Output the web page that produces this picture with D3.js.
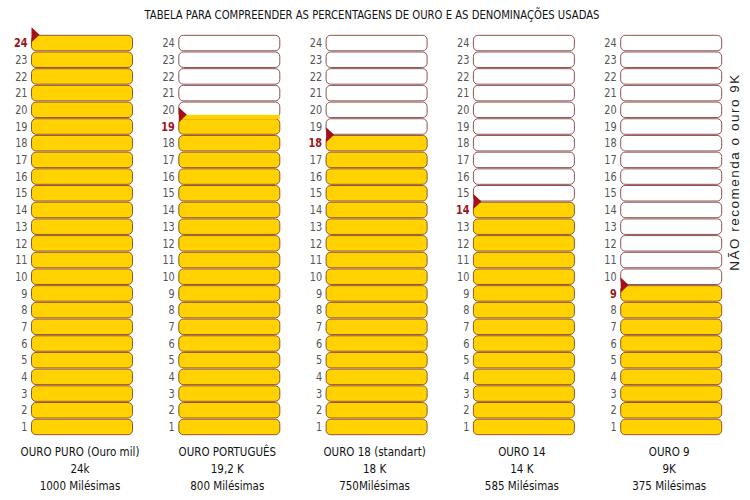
<!DOCTYPE html>
<html><head><meta charset="utf-8">
<script src="https://cdn.jsdelivr.net/npm/d3@7"></script>
<style>body{margin:0;background:#fff}</style>
</head><body>
<svg id="c" width="750" height="500"></svg>
<script>
const title = "TABELA PARA COMPREENDER AS PERCENTAGENS DE OURO E AS DENOMINAÇÕES USADAS";
const categories = ["OURO PURO (Ouro mil)", "OURO PORTUGUÊS", "OURO 18 (standart)", "OURO 14", "OURO 9"];
const karatLabels = ["24k", "19,2 K", "18 K", "14 K", "9K"];
const milLabels = ["1000 Milésimas", "800 Milésimas", "750Milésimas", "585 Milésimas", "375 Milésimas"];
const karats = [24, 19.2, 18, 14, 9];
const rowTicks = d3.range(1, 25);
const sideNote = "NÃO recomenda o ouro 9K";

const FONT = "'Liberation Sans Narrow','DejaVu Sans Condensed','Liberation Sans',sans-serif";
const svg = d3.select("#c");
const x = d3.scaleBand().domain(d3.range(categories.length)).range([31.5, 721.7]).paddingInner(0.3143).paddingOuter(0);
const y = d3.scaleLinear().domain([0, 24]).range([435.3, 34.7]);
const gold = "#ffd200";

svg.append("text").attr("x", 372).attr("y", 19).attr("text-anchor", "middle")
  .attr("font-family", FONT).attr("font-size", 12.5).attr("fill", "#111")
  .attr("textLength", 455).attr("lengthAdjust", "spacingAndGlyphs").text(title);

categories.forEach((cat, i) => {
  const g = svg.append("g");
  const x0 = x(i), w = x.bandwidth();
  const k = karats[i], full = Math.floor(k);
  rowTicks.forEach(r => {
    const filled = r <= full;
    g.append("rect").attr("x", x0).attr("y", y(r) + 0.6).attr("width", w)
      .attr("height", y(r - 1) - y(r) - 1.2).attr("rx", 4.5)
      .attr("fill", filled ? gold : "#fff")
      .attr("stroke", filled ? "#95552a" : "#8e5252").attr("stroke-width", 1);
    const hl = r === full;
    g.append("text").attr("transform", `translate(${x0 - 4},${(y(r) + y(r - 1)) / 2 + 4.2}) scale(0.9,1)`)
      .attr("text-anchor", "end").attr("font-family", FONT).attr("font-size", 12)
      .attr("font-weight", hl ? "bold" : "normal").attr("fill", hl ? "#9b1320" : "#555").text(r);
  });
  if (k > full) {
    g.append("rect").attr("x", x0).attr("y", y(k)).attr("width", w)
      .attr("height", y(full) - y(k) + 1).attr("fill", gold);
  }
  const ty = y(k);
  g.append("path").attr("d", `M${x0},${ty - 7.5}L${x0 + 8},${ty}L${x0},${ty + 7.5}Z`).attr("fill", "#a3101c");
  const cx = x0 + w / 2;
  [categories[i], karatLabels[i], milLabels[i]].forEach((t, j) => {
    g.append("text").attr("transform", `translate(${cx - 2},${456 + j * 17}) scale(0.92,1)`).attr("text-anchor", "middle")
      .attr("font-family", FONT).attr("font-size", 12.5).attr("fill", "#111").text(t);
  });
});

svg.append("text").attr("transform", "translate(739,172) rotate(-90)").attr("text-anchor", "middle")
  .attr("font-family", "'Liberation Sans',Arial,sans-serif").attr("font-size", 13.5)
  .attr("letter-spacing", 1.5).attr("fill", "#222").text(sideNote);
</script>
</body></html>
